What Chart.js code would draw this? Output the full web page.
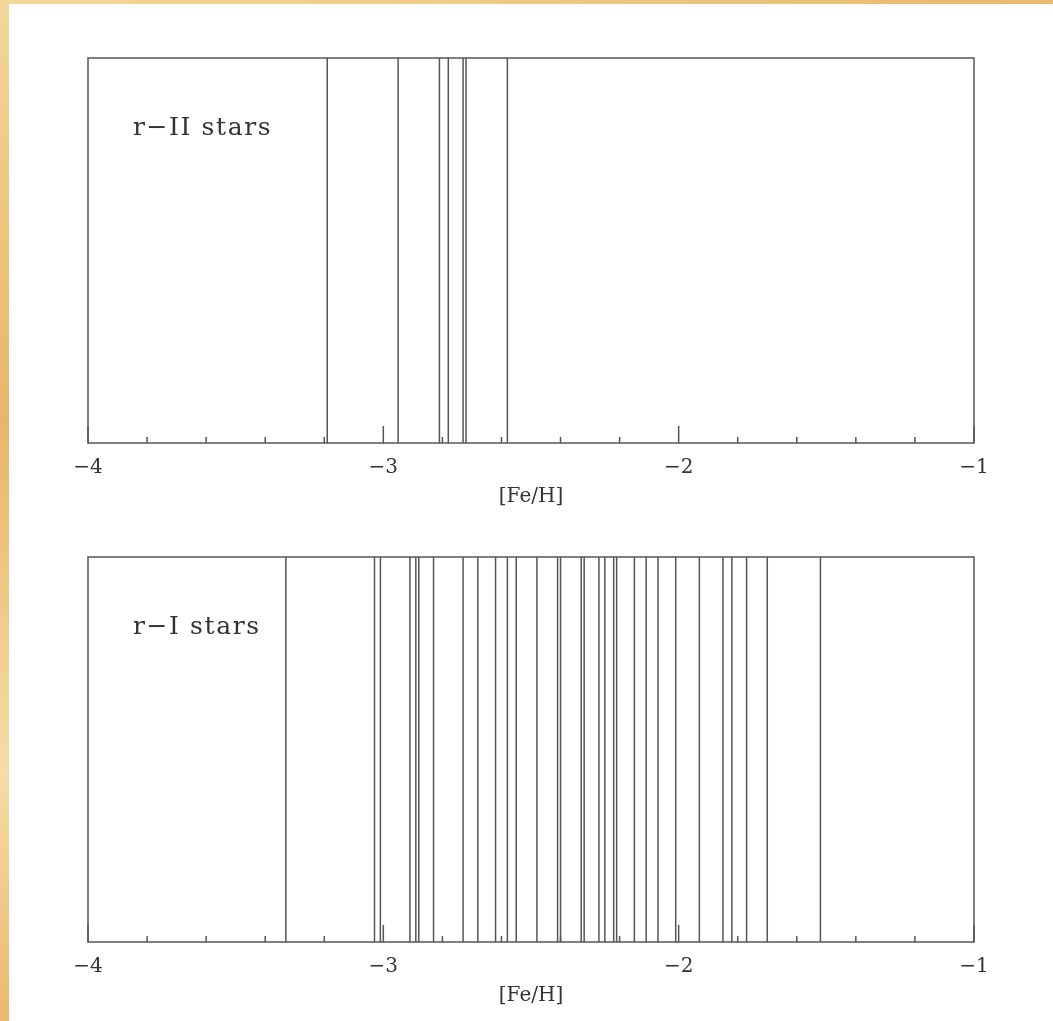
<!DOCTYPE html>
<html>
<head>
<meta charset="utf-8">
<script src="https://cdn.jsdelivr.net/npm/chart.js@4.4.0/dist/chart.umd.min.js"></script>
<style>
  html, body { margin: 0; padding: 0; }
  body {
    width: 1053px; height: 1021px; overflow: hidden; position: relative;
    background: linear-gradient(160deg, #f3d79a 0%, #e9b56a 30%, #f6dca6 55%, #e6a85c 80%, #f2cf8e 100%);
  }
  #sheet { position: absolute; left: 9px; top: 4px; right: 0; bottom: 0; background: #fff; }
  .panel { position: absolute; left: 0; width: 1053px; }
</style>
</head>
<body>
<div id="sheet"></div>
<div class="panel" style="top:0px;height:520px"><canvas id="topChart" width="1053" height="520"></canvas></div>
<div class="panel" style="top:499px;height:522px"><canvas id="botChart" width="1053" height="522"></canvas></div>
<script>
// [Fe/H] of each star
const rIIFeH = [-3.19, -2.95, -2.81, -2.78, -2.73, -2.72, -2.58];
const rIFeH  = [-3.33, -3.03, -3.01, -2.91, -2.89, -2.88, -2.83, -2.73, -2.68, -2.62,
                -2.58, -2.55, -2.48, -2.41, -2.40, -2.33, -2.32, -2.27, -2.25, -2.22,
                -2.21, -2.15, -2.11, -2.07, -2.01, -1.93, -1.85, -1.82, -1.77, -1.70, -1.52];
const xRange     = [-4, -1];
const minorStep  = 0.2;
const axisTitle  = "[Fe/H]";

const INK  = "#555";
const FONT = "'DejaVu Serif', 'Liberation Serif', serif";

// every star becomes a bottom-to-top segment, broken by a null point
function toSegments(vals) {
  const pts = [];
  vals.forEach(v => { pts.push({ x: v, y: 0 }, { x: v, y: 1 }, { x: v, y: null }); });
  return pts;
}

const isMajor = v => Math.abs(v - Math.round(v)) < 1e-6;

// frame, inward ticks on the bottom axis, panel label
const framePlugin = {
  id: "frame",
  afterDraw(chart, args, opts) {
    const { ctx, chartArea: a } = chart;
    const xs = chart.scales.x;
    ctx.save();
    ctx.strokeStyle = INK;
    ctx.lineWidth = 1.5;
    ctx.strokeRect(a.left, a.top, a.right - a.left, a.bottom - a.top);
    ctx.beginPath();
    xs.ticks.forEach(t => {
      const px = xs.getPixelForValue(t.value);
      const len = isMajor(t.value) ? 17 : 6;
      ctx.moveTo(px, a.bottom);
      ctx.lineTo(px, a.bottom - len);
    });
    ctx.stroke();
    ctx.fillStyle = "#333";
    ctx.font = "25px " + FONT;
    ctx.letterSpacing = "1.6px";
    ctx.textBaseline = "middle";
    ctx.fillText(opts.label, a.left + 45, a.top + 70);
    ctx.restore();
  }
};

function buildPanel(id, vals, label, pad) {
  return new Chart(document.getElementById(id), {
    type: "line",
    data: {
      datasets: [{
        data: toSegments(vals),
        borderColor: INK,
        borderWidth: 1.5,
        pointRadius: 0,
        spanGaps: false,
        tension: 0
      }]
    },
    options: {
      responsive: false,
      animation: false,
      layout: { padding: pad },
      plugins: {
        legend: { display: false },
        tooltip: { enabled: false },
        frame: { label }
      },
      scales: {
        x: {
          type: "linear",
          min: xRange[0],
          max: xRange[1],
          border: { display: false },
          grid: { display: false, drawTicks: false },
          ticks: {
            stepSize: minorStep,
            autoSkip: false,
            maxRotation: 0,
            padding: 13,
            color: "#333",
            font: { family: FONT, size: 20 },
            callback: v => isMajor(v) ? String(Math.round(v)).replace("-", "\u2212") : ""
          },
          title: {
            display: true,
            text: axisTitle,
            color: "#333",
            font: { family: FONT, size: 20 },
            padding: { top: -8, bottom: 0 }
          }
        },
        y: { display: false, min: 0, max: 1 }
      }
    },
    plugins: [framePlugin]
  });
}

buildPanel("topChart", rIIFeH, "r\u2212II stars", { left: 88, right: 79, top: 58, bottom: 11 });
buildPanel("botChart", rIFeH,  "r\u2212I stars",  { left: 88, right: 79, top: 58, bottom: 13 });
</script>
</body>
</html>
